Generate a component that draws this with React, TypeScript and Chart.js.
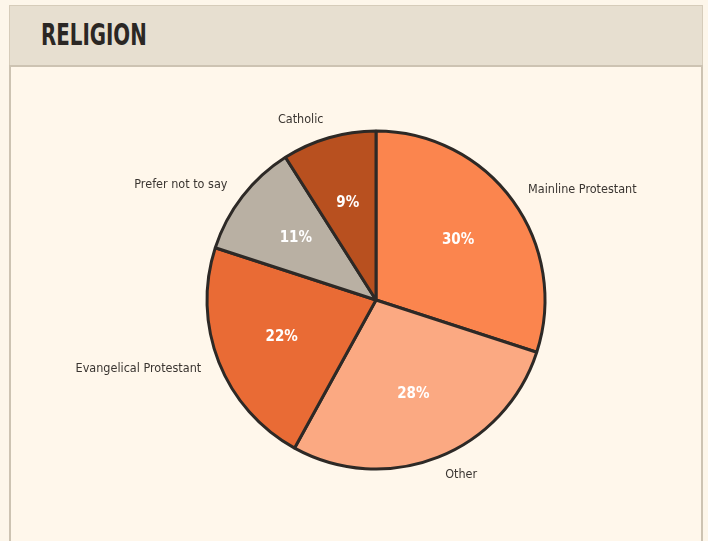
import React, { useEffect, useRef } from "react";
import { Chart, registerables } from "chart.js";

Chart.register(...registerables);

const title = "RELIGION";
const categories = ["Mainline Protestant", "Other", "Evangelical Protestant", "Prefer not to say", "Catholic"];
const shares = [30, 28, 22, 11, 9];
const sliceColors = ["#fb854e", "#fba982", "#e96b35", "#b9b0a3", "#b8501f"];

const labelFont = '"DejaVu Sans Condensed", "Liberation Sans Narrow", sans-serif';

const pieLabels = {
  id: "pieLabels",
  afterDatasetsDraw(chart: any) {
    const ctx = chart.ctx;
    const meta = chart.getDatasetMeta(0);
    const total = shares.reduce((a, b) => a + b, 0);
    ctx.save();
    meta.data.forEach((arc: any, i: number) => {
      const { x, y, startAngle, endAngle, outerRadius } = arc.getProps(["x", "y", "startAngle", "endAngle", "outerRadius"], true);
      const mid = (startAngle + endAngle) / 2;
      // percentage inside
      const pr = outerRadius * 0.6;
      ctx.fillStyle = "#ffffff";
      ctx.font = `bold 15px ${labelFont}`;
      ctx.textAlign = "center";
      ctx.textBaseline = "middle";
      ctx.fillText(Math.round((shares[i] / total) * 100) + "%", x + Math.cos(mid) * pr, y + Math.sin(mid) * pr);
      // outer category label
      const R = outerRadius + 19;
      const dy = R * Math.sin(mid);
      const right = Math.cos(mid) >= 0;
      const dx = Math.sqrt(Math.max(R * R - dy * dy, 0));
      ctx.fillStyle = "#3a3531";
      ctx.font = `12.5px ${labelFont}`;
      ctx.textAlign = right ? "left" : "right";
      ctx.fillText(categories[i], x + (right ? dx : -dx), y + dy);
    });
    ctx.restore();
  },
};

export default function App() {
  const ref = useRef<HTMLCanvasElement | null>(null);
  useEffect(() => {
    if (!ref.current) return;
    const chart = new Chart(ref.current, {
      type: "pie",
      data: {
        labels: categories,
        datasets: [
          {
            data: shares,
            backgroundColor: sliceColors,
            borderColor: "#2d2926",
            borderWidth: 3,
          },
        ],
      },
      options: {
        animation: false,
        responsive: false,
        radius: 169,
        layout: { padding: { left: 44, right: 0, top: 59, bottom: 0 } },
        plugins: { legend: { display: false }, tooltip: { enabled: false } },
      } as any,
      plugins: [pieLabels],
    });
    return () => chart.destroy();
  }, []);

  return (
    <div style={{ position: "fixed", left: 0, top: 0, width: 708, height: 541, background: "#fdf6ea", overflow: "hidden" }}>
      <div
        style={{
          position: "absolute",
          left: 9,
          top: 5,
          width: 694,
          height: 60,
          background: "#e7dfd0",
          borderTop: "1px solid #d6ccba",
          borderLeft: "1px solid #d6ccba",
          borderRight: "1px solid #d6ccba",
          boxSizing: "border-box",
        }}
      >
        <div
          style={{
            position: "absolute",
            left: 31,
            top: 11,
            fontFamily: labelFont,
            fontWeight: "bold",
            fontSize: 31,
            lineHeight: "34px",
            color: "#2b2724",
            transform: "scaleX(0.71)",
            transformOrigin: "left top",
            letterSpacing: 0,
          }}
        >
          {title}
        </div>
      </div>
      <div
        style={{
          position: "absolute",
          left: 9,
          top: 65,
          width: 694,
          height: 490,
          background: "#fff7eb",
          border: "2px solid #cdc3b2",
          boxSizing: "border-box",
        }}
      />
      <canvas ref={ref} width={708} height={541} style={{ position: "absolute", left: 0, top: 0, width: 708, height: 541 }} />
    </div>
  );
}
